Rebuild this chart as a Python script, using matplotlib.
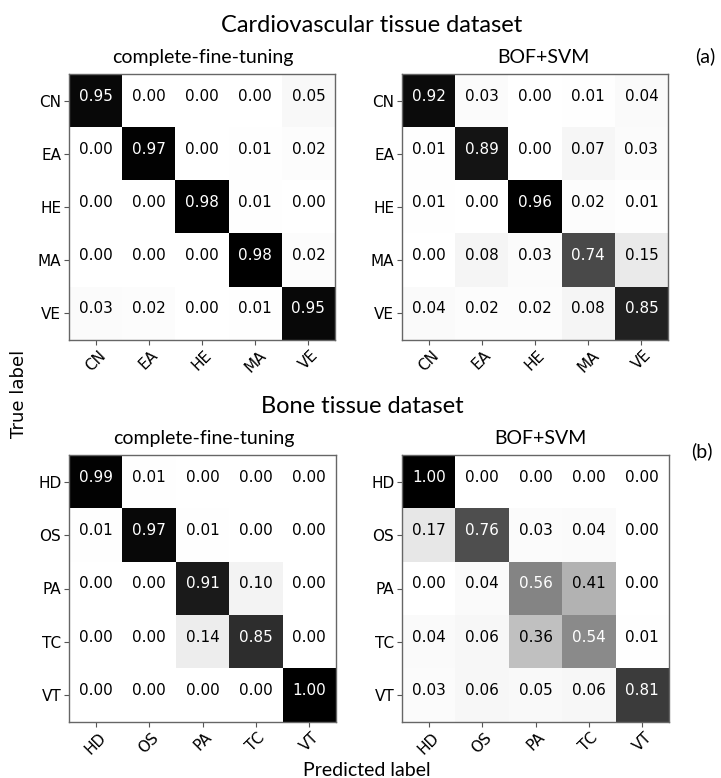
import numpy as np
import matplotlib
matplotlib.use('Agg')
import matplotlib.pyplot as plt

plt.rcParams['font.family'] = ['DejaVu Sans']

# class labels
cardio_labels = ['CN', 'EA', 'HE', 'MA', 'VE']
bone_labels = ['HD', 'OS', 'PA', 'TC', 'VT']

# normalized confusion matrices
cardio_fine = [[0.95, 0.00, 0.00, 0.00, 0.05],
               [0.00, 0.97, 0.00, 0.01, 0.02],
               [0.00, 0.00, 0.98, 0.01, 0.00],
               [0.00, 0.00, 0.00, 0.98, 0.02],
               [0.03, 0.02, 0.00, 0.01, 0.95]]
cardio_bof = [[0.92, 0.03, 0.00, 0.01, 0.04],
              [0.01, 0.89, 0.00, 0.07, 0.03],
              [0.01, 0.00, 0.96, 0.02, 0.01],
              [0.00, 0.08, 0.03, 0.74, 0.15],
              [0.04, 0.02, 0.02, 0.08, 0.85]]
bone_fine = [[0.99, 0.01, 0.00, 0.00, 0.00],
             [0.01, 0.97, 0.01, 0.00, 0.00],
             [0.00, 0.00, 0.91, 0.10, 0.00],
             [0.00, 0.00, 0.14, 0.85, 0.00],
             [0.00, 0.00, 0.00, 0.00, 1.00]]
bone_bof = [[1.00, 0.00, 0.00, 0.00, 0.00],
            [0.17, 0.76, 0.03, 0.04, 0.00],
            [0.00, 0.04, 0.56, 0.41, 0.00],
            [0.04, 0.06, 0.36, 0.54, 0.01],
            [0.03, 0.06, 0.05, 0.06, 0.81]]

W, H = 721, 778
fig = plt.figure(figsize=(W / 100, H / 100), dpi=100)
title_font = 'Lato'


def px_text(x, y, s, **kw):
    fig.text(x / W, 1 - y / H, s, family=title_font, **kw)


def plot_cm(rect, cm, labels):
    left, top, right, bottom = rect
    ax = fig.add_axes([left / W, 1 - bottom / H, (right - left) / W, (bottom - top) / H])
    cm = np.array(cm)
    ax.imshow(cm, interpolation='nearest', cmap=plt.cm.Greys, aspect='auto')
    thresh = cm.max() / 2.
    for i in range(cm.shape[0]):
        for j in range(cm.shape[1]):
            ax.text(j, i, format(cm[i, j], '.2f'), ha='center', va='baseline',
                    fontsize=11, family='DejaVu Sans',
                    color='white' if cm[i, j] > thresh else 'black')
    ticks = np.arange(len(labels))
    ax.set_xticks(ticks)
    ax.set_xticklabels(labels, rotation=45, fontsize=11, family='DejaVu Sans')
    ax.set_yticks(ticks)
    ax.set_yticklabels(labels, fontsize=11, family='DejaVu Sans')
    ax.tick_params(length=3.5, width=0.8, color='#555555', pad=2)
    for sp in ax.spines.values():
        sp.set_color('#666666')
        sp.set_linewidth(1.0)
    return ax


plot_cm((69, 74, 335, 340), cardio_fine, cardio_labels)
plot_cm((402, 74, 668, 340), cardio_bof, cardio_labels)
plot_cm((69, 455, 336, 722), bone_fine, bone_labels)
plot_cm((402, 455, 669, 722), bone_bof, bone_labels)

px_text(372, 32, 'Cardiovascular tissue dataset', fontsize=17, ha='center', va='baseline')
px_text(203, 63, 'complete-fine-tuning', fontsize=14, ha='center', va='baseline')
px_text(543, 63, 'BOF+SVM', fontsize=14, ha='center', va='baseline')
px_text(705, 62, '(a)', fontsize=14, ha='center', va='baseline')

px_text(362, 413, 'Bone tissue dataset', fontsize=17, ha='center', va='baseline')
px_text(204, 444, 'complete-fine-tuning', fontsize=14, ha='center', va='baseline')
px_text(540, 444, 'BOF+SVM', fontsize=14, ha='center', va='baseline')
px_text(702, 457, '(b)', fontsize=14, ha='center', va='baseline')

fig.text(19 / W, 1 - 394 / H, 'True label', fontsize=13, rotation=90,
         ha='center', va='center', family='DejaVu Sans')
px_text(367, 776, 'Predicted label', fontsize=14, ha='center', va='baseline')

fig.savefig('out.png', dpi=100)
